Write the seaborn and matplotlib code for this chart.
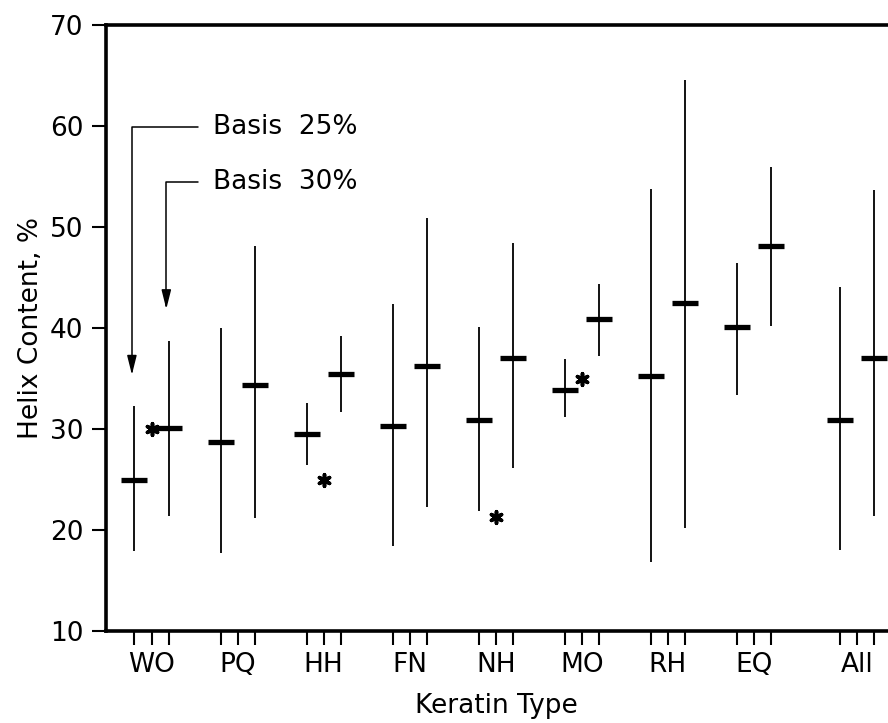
import numpy as np
import pandas as pd
import seaborn as sns
import matplotlib.pyplot as plt

sns.set_theme(style="ticks", context="paper")
plt.rcParams['font.family'] = ['DejaVu Sans']
plt.rcParams['text.color'] = 'black'
plt.rcParams['axes.labelcolor'] = 'black'
plt.rcParams['xtick.color'] = 'black'
plt.rcParams['ytick.color'] = 'black'

# keratin types and helix content
keratin = ["WO", "PQ", "HH", "FN", "NH", "MO", "RH", "EQ", "All"]

# basis 25 %
low_25 = [17.9, 17.7, 26.5, 18.4, 21.9, 31.2, 16.9, 33.4, 18.0]
high_25 = [32.3, 40.0, 32.6, 42.4, 40.1, 37.0, 53.8, 46.5, 44.1]
mean_25 = [25.0, 28.7, 29.5, 30.3, 30.9, 33.9, 35.3, 40.1, 30.9]

# basis 30 %
low_30 = [21.4, 21.2, 31.7, 22.3, 26.2, 37.3, 20.2, 40.2, 21.4]
high_30 = [38.7, 48.1, 39.2, 50.9, 48.4, 44.4, 64.6, 56.0, 53.7]
mean_30 = [30.1, 34.4, 35.5, 36.3, 37.1, 40.9, 42.5, 48.1, 37.1]

# single values marked with an asterisk
star_type = ["WO", "HH", "NH", "MO"]
star_val = [30.0, 25.0, 21.3, 35.0]

centers = np.arange(len(keratin), dtype=float)
centers[-1] += 0.2   # "All" sits a bit apart
off = 0.2
pos = dict(zip(keratin, centers))

df = pd.concat([
    pd.DataFrame({"type": keratin, "basis": "25%", "low": low_25,
                  "high": high_25, "mean": mean_25, "x": centers - off}),
    pd.DataFrame({"type": keratin, "basis": "30%", "low": low_30,
                  "high": high_30, "mean": mean_30, "x": centers + off}),
])
stars = pd.DataFrame({"type": star_type, "val": star_val})
stars["x"] = stars["type"].map(pos)

fig = plt.figure(figsize=(8.88, 7.23), dpi=100)
ax = fig.add_axes([0.119, 0.127, 0.881, 0.838])

ax.vlines(df["x"], df["low"], df["high"], color="black", lw=1.3)
sns.scatterplot(data=df, x="x", y="mean", marker="_", s=330, linewidth=3.8,
                color="black", ax=ax, legend=False, zorder=3)
sns.scatterplot(data=stars, x="x", y="val", marker=(6, 2, 0), s=70,
                linewidth=2.6, color="black", ax=ax, legend=False, zorder=3)

ax.set_xlim(-0.535, 8.56)
ax.set_ylim(10, 70)
ax.set_yticks(range(10, 71, 10))

ax.set_xticks(centers)
ax.set_xticklabels(keratin)
ax.set_xticks(np.concatenate([centers - off, centers + off]), minor=True)
ax.tick_params(axis="x", which="both", length=10, width=1.5, direction="out",
               labelsize=19, pad=5)
ax.tick_params(axis="y", length=10, width=1.5, direction="out", labelsize=19, pad=6)

for s in ["left", "bottom", "top"]:
    ax.spines[s].set_linewidth(2.6)
    ax.spines[s].set_color("black")
ax.spines["right"].set_visible(False)

ax.set_xlabel("Keratin Type", fontsize=19, labelpad=11)
ax.set_ylabel("Helix Content, %", fontsize=19, labelpad=4)

# basis call-outs with bent arrows
arrow = dict(arrowstyle="-|>,head_length=1.2,head_width=0.3", color="black",
             lw=1.1, shrinkA=0, shrinkB=0, connectionstyle="angle,angleA=0,angleB=90,rad=0")
ax.annotate("", xy=(pos["WO"] - off - 0.03, 35.4), xytext=(0.54, 59.9),
            arrowprops=arrow)
ax.text(0.71, 59.9, "Basis  25%", fontsize=19, va="center", ha="left")
ax.annotate("", xy=(pos["WO"] + off - 0.03, 41.9), xytext=(0.54, 54.5),
            arrowprops=arrow)
ax.text(0.71, 54.5, "Basis  30%", fontsize=19, va="center", ha="left")

fig.savefig("out.png", dpi=100)
